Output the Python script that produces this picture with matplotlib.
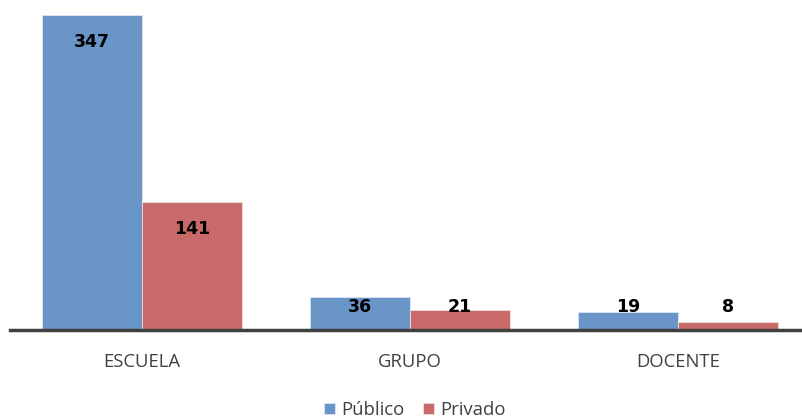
import matplotlib
matplotlib.use("Agg")
import matplotlib.pyplot as plt
import numpy as np

categories = ["ESCUELA", "GRUPO", "DOCENTE"]
publico = [347, 36, 19]
privado = [141, 21, 8]
series_names = ["Público", "Privado"]
colors = ["#6A96C7", "#C96A6A"]

W, H = 802, 419
fig = plt.figure(figsize=(W / 100, H / 100), dpi=100)
ax = fig.add_axes([10 / W, 1 - 329.5 / H, 1 - 10 / W, 329.5 / H])

x = np.arange(len(categories))
bw = 0.373
b1 = ax.bar(x - bw / 2, publico, bw, color=colors[0], edgecolor="#DCE6F2", linewidth=0.6, label=series_names[0])
b2 = ax.bar(x + bw / 2, privado, bw, color=colors[1], edgecolor="#F2DCDB", linewidth=0.6, label=series_names[1])

ax.set_xlim(-0.4925, 2.4627)
ax.set_ylim(0, 347 * 329.5 / 315)

for bars, vals in ((b1, publico), (b2, privado)):
    for rect, v in zip(bars, vals):
        y = max(v - 29.8, 24.5)
        ax.text(rect.get_x() + rect.get_width() / 2, y, str(v), ha="center", va="center",
                fontsize=12.5, fontweight="bold", color="black", family="DejaVu Sans")

for s in ["top", "right", "left"]:
    ax.spines[s].set_visible(False)
ax.spines["bottom"].set_color("#404040")
ax.spines["bottom"].set_linewidth(2.5)
ax.set_yticks([])
ax.set_xticks(x)
ax.set_xticklabels(categories, fontsize=13.3, color="#404040", family="Open Sans")
ax.tick_params(axis="x", length=0, pad=17)

leg = fig.legend(handles=[b1, b2], labels=series_names, loc="center", bbox_to_anchor=(415 / W, 1 - 410 / H),
                 ncol=2, frameon=False, prop={"family": "Open Sans", "size": 13.3},
                 handlelength=0.6, handleheight=0.6, handletextpad=0.35, columnspacing=1.0)
for t in leg.get_texts():
    t.set_color("#404040")

fig.savefig("out.png", dpi=100)
